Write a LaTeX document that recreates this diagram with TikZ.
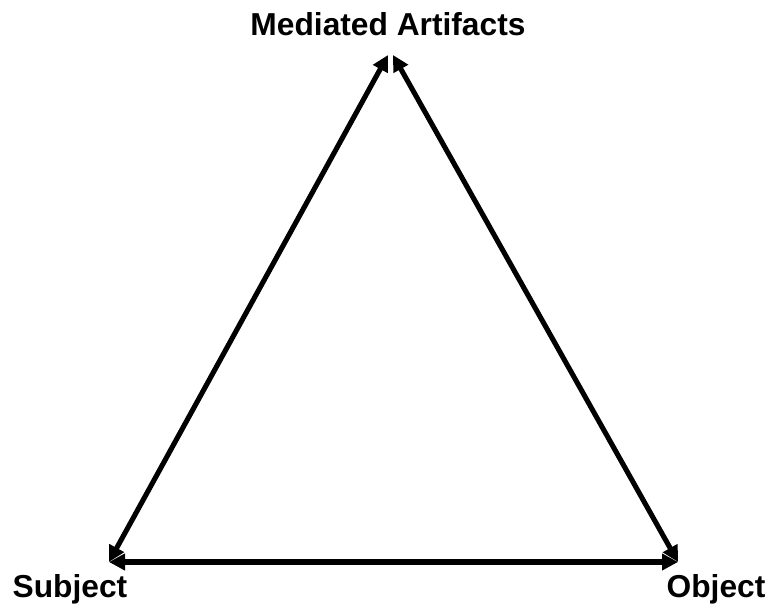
\documentclass[tikz,border=0pt]{standalone}
\usepackage{fontspec}
\setmainfont{Liberation Sans}
\usetikzlibrary{arrows.meta, positioning}

\begin{document}
\begin{tikzpicture}[x=0.75pt, y=-0.75pt,
  label/.style={font=\bfseries\fontsize{23.8}{28}\selectfont, inner sep=0pt},
  link/.style={line width=3.8pt, {Triangle[length=12pt,width=12pt]}-{Triangle[length=12pt,width=12pt]}}]
  \useasboundingbox (0,0) rectangle (771,608);
  % corners of the triangle
  \coordinate (topL) at (388,55);
  \coordinate (topR) at (393,55);
  \coordinate (subj) at (109,562);
  \coordinate (obj) at (678,562);
  % labels
  \node[label] (artifacts) at (388,24) {Mediated Artifacts};
  \node[label] (subject) at (70,589) {Subject};
  \node[label] (object) at (716,589) {Object};
  % arrows
  \draw[link] (subj) -- (topL);
  \draw[link] (topR) -- (obj);
  \draw[link] (subj) -- (obj);
\end{tikzpicture}
\end{document}
